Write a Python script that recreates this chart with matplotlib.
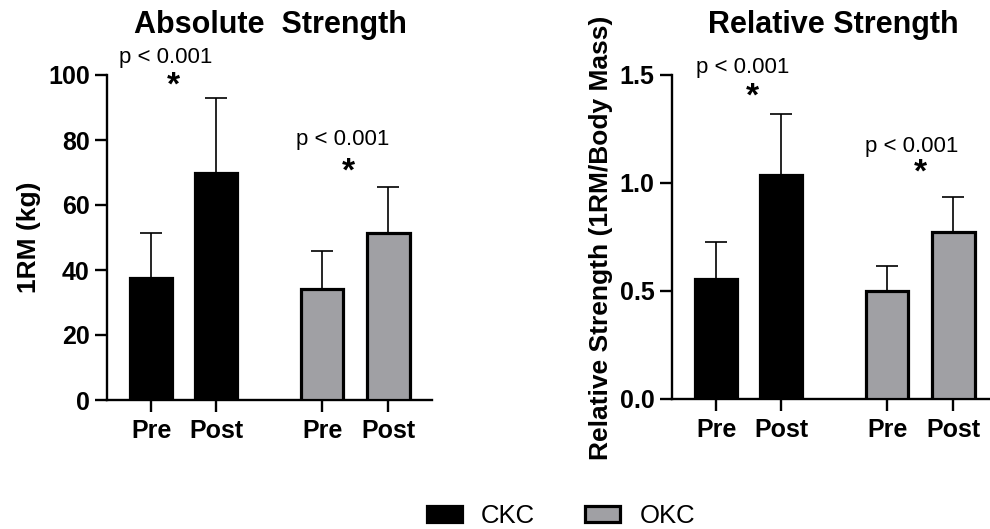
import matplotlib
matplotlib.use("Agg")
import matplotlib.pyplot as plt
from matplotlib.patches import Patch
import numpy as np

plt.rcParams['font.family'] = ['Liberation Sans', 'DejaVu Sans']

categories = ["Pre", "Post", "Pre", "Post"]
groups = ["CKC", "CKC", "OKC", "OKC"]
abs_mean = [37.5, 70.0, 34.1, 51.5]
abs_sd = [14.0, 22.8, 11.9, 13.9]
rel_mean = [0.554, 1.037, 0.50, 0.772]
rel_sd = [0.171, 0.283, 0.117, 0.163]
p_text = "p < 0.001"

positions = [1.0, 2.0, 3.63, 4.65]
colors = {"CKC": "#000000", "OKC": "#a0a0a4"}
gray = "#a0a0a4"

fig = plt.figure(figsize=(9.9, 5.29), dpi=100)
W, H = 990, 529
axL = fig.add_axes([107 / W, 1 - 400 / H, 325 / W, 325 / H])
axR = fig.add_axes([672 / W, 1 - 399 / H, 318 / W, 324 / H])


def draw(ax, means, sds, ylim, yticks, yticklabels, ylabel, ann):
    for x, m, s, g in zip(positions, means, sds, groups):
        ax.bar(x, m, width=0.65, color=colors[g], edgecolor="black",
               linewidth=2.3, zorder=3)
        ax.errorbar(x, m, yerr=[[0], [s]], fmt="none", ecolor="black",
                    elinewidth=1.2, capsize=8, capthick=1.2, zorder=2)
    ax.set_ylim(*ylim)
    ax.set_xlim(0.32, 0.32 + (ax.get_position().width * W) / 65)
    ax.set_yticks(yticks)
    ax.set_yticklabels(yticklabels, fontsize=18, fontweight="bold")
    ax.set_xticks(positions)
    ax.set_xticklabels(categories, fontsize=18, fontweight="bold")
    for sp in ["top", "right"]:
        ax.spines[sp].set_visible(False)
    for sp in ["left", "bottom"]:
        ax.spines[sp].set_linewidth(1.7)
    ax.tick_params(axis="both", length=8.5, width=1.7, direction="out")
    ax.tick_params(axis="x", pad=5)
    ax.tick_params(axis="y", pad=4)
    ax.set_ylabel(ylabel, fontsize=19, fontweight="bold")
    for (px, py, sx, sy) in ann:
        ax.text(px, py, p_text, fontsize=16, ha="center", va="center",
                clip_on=False)
        ax.text(sx, sy, "*", fontsize=24, fontweight="bold", ha="center",
                va="center", clip_on=False)


draw(axL, abs_mean, abs_sd, (0, 100), [0, 20, 40, 60, 80, 100],
     ["0", "20", "40", "60", "80", "100"], "1RM (kg)",
     [(1.23, 105.5, 1.335, 96.5), (3.95, 80, 4.04, 70.0)])
draw(axR, rel_mean, rel_sd, (0, 1.5), [0, 0.5, 1.0, 1.5],
     ["0.0", "0.5", "1.0", "1.5"],
     "Relative Strength (1RM/Body Mass)",
     [(1.41, 1.537, 1.55, 1.40), (4.01, 1.171, 4.135, 1.045)])

fig.text(270 / W, 1 - 25 / H, "Absolute  Strength", fontsize=22,
         fontweight="bold", ha="center", va="center")
fig.text(833 / W, 1 - 25 / H, "Relative Strength", fontsize=22,
         fontweight="bold", ha="center", va="center")

axL.yaxis.set_label_coords(-(107 - 41) / 325, 0.5)
axR.yaxis.set_label_coords(-(672 - 613) / 318, 0.497)

handles = [Patch(facecolor="black", edgecolor="black", linewidth=2.3, label="CKC"),
           Patch(facecolor=gray, edgecolor="black", linewidth=2.3, label="OKC")]
fig.legend(handles=handles, loc="center", bbox_to_anchor=(561 / W, 1 - 516 / H),
           ncol=2, frameon=False, fontsize=18.5, handlelength=1.35,
           handleheight=0.55, handletextpad=0.75, columnspacing=1.95)

fig.savefig("out.png", dpi=100)
